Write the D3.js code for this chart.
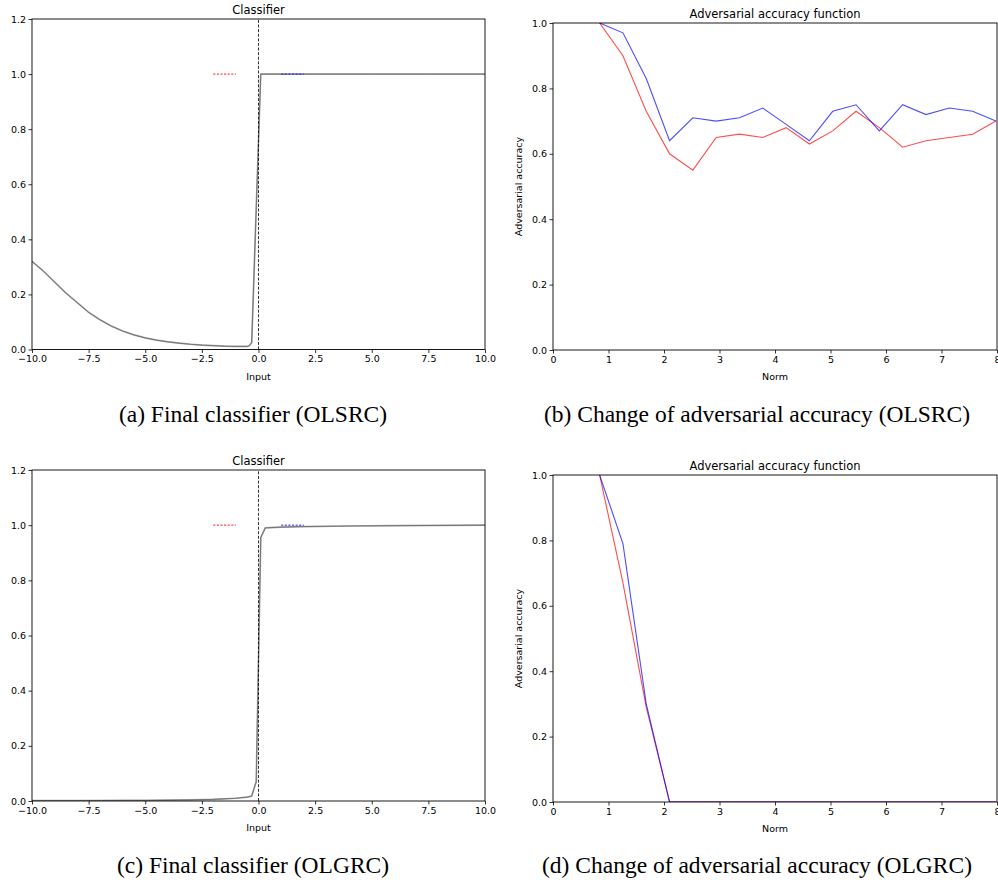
<!DOCTYPE html>
<html>
<head>
<meta charset="utf-8">
<script src="https://cdn.jsdelivr.net/npm/d3@7"></script>
<style>
  html, body { margin: 0; padding: 0; background: #fff; }
  svg { display: block; }
  .tick text { font-family: "DejaVu Sans", sans-serif; }
</style>
</head>
<body>
<svg id="chart" width="998" height="882"></svg>
<script>
// ---- Classifier output, OLSRC (input -> output) ----
const olsrcInput  = [-10, -9.5, -9, -8.5, -8, -7.5, -7, -6.5, -6, -5.5, -5, -4.5, -4, -3.5, -3, -2.5, -2, -1.5, -1, -0.5, -0.4, -0.3, 0.1, 2.5, 5, 7.5, 10];
const olsrcOutput = [0.32, 0.285, 0.245, 0.205, 0.17, 0.135, 0.108, 0.085, 0.067, 0.053, 0.042, 0.034, 0.028, 0.023, 0.019, 0.016, 0.014, 0.012, 0.011, 0.011, 0.014, 0.025, 1.0, 1.0, 1.0, 1.0, 1.0];

// ---- Classifier output, OLGRC ----
const olgrcInput  = [-10, -8, -6, -5, -4, -3, -2, -1.5, -1, -0.5, -0.3, -0.1, 0.1, 0.3, 1, 2, 4, 6, 8, 10];
const olgrcOutput = [0.001, 0.001, 0.002, 0.002, 0.003, 0.004, 0.006, 0.008, 0.01, 0.014, 0.018, 0.07, 0.955, 0.99, 0.993, 0.995, 0.997, 0.998, 0.999, 1.0];

// Training samples marked at output 1.0 (negative class red, positive class blue)
const negSampleX = [-2, -1];
const posSampleX = [1, 2];
const sampleLevel = 1.0;

// ---- Adversarial accuracy vs perturbation norm ----
const norms = [0.84, 1.26, 1.68, 2.10, 2.52, 2.94, 3.36, 3.78, 4.20, 4.62, 5.04, 5.46, 5.88, 6.30, 6.72, 7.14, 7.56, 7.98];
const olsrcAccRed  = [1.0, 0.90, 0.73, 0.60, 0.55, 0.65, 0.66, 0.65, 0.68, 0.63, 0.67, 0.73, 0.68, 0.62, 0.64, 0.65, 0.66, 0.70];
const olsrcAccBlue = [1.0, 0.97, 0.83, 0.64, 0.71, 0.70, 0.71, 0.74, 0.69, 0.64, 0.73, 0.75, 0.67, 0.75, 0.72, 0.74, 0.73, 0.70];
const olgrcAccRed  = [1.0, 0.67, 0.29, 0.0, 0, 0, 0, 0, 0, 0, 0, 0, 0, 0, 0, 0, 0, 0];
const olgrcAccBlue = [1.0, 0.79, 0.30, 0.0, 0, 0, 0, 0, 0, 0, 0, 0, 0, 0, 0, 0, 0, 0];

// Tick values
const classifierXTicks = [-10, -7.5, -5, -2.5, 0, 2.5, 5, 7.5, 10];
const classifierYTicks = [0, 0.2, 0.4, 0.6, 0.8, 1.0, 1.2];
const normTicks = [0, 1, 2, 3, 4, 5, 6, 7, 8];
const accTicks = [0, 0.2, 0.4, 0.6, 0.8, 1.0];

const captions = [
  "(a) Final classifier (OLSRC)",
  "(b) Change of adversarial accuracy (OLSRC)",
  "(c) Final classifier (OLGRC)",
  "(d) Change of adversarial accuracy (OLGRC)"
];

const svg = d3.select("#chart");
const fmtMinus = s => s.replace("-", "\u2212");

function panel(opt) {
  const g = svg.append("g");
  const x = d3.scaleLinear().domain(opt.xDomain).range([opt.left, opt.right]);
  const y = d3.scaleLinear().domain(opt.yDomain).range([opt.bottom, opt.top]);

  const clip = "clip" + opt.id;
  svg.append("clipPath").attr("id", clip).append("rect")
    .attr("x", opt.left).attr("y", opt.top)
    .attr("width", opt.right - opt.left).attr("height", opt.bottom - opt.top);

  const plot = g.append("g").attr("clip-path", `url(#${clip})`);
  opt.draw(plot, x, y);

  // frame
  g.append("rect")
    .attr("x", opt.left).attr("y", opt.top)
    .attr("width", opt.right - opt.left).attr("height", opt.bottom - opt.top)
    .attr("fill", "none").attr("stroke", "#000").attr("stroke-width", 0.9);

  const xAxis = d3.axisBottom(x).tickValues(opt.xTicks).tickSize(3.5).tickPadding(2.5)
    .tickFormat(d => fmtMinus(opt.xFmt(d)));
  const yAxis = d3.axisLeft(y).tickValues(opt.yTicks).tickSize(3.5).tickPadding(2.5)
    .tickFormat(d => fmtMinus(d3.format(".1f")(d)));

  const gx = g.append("g").attr("transform", `translate(0,${opt.bottom})`).call(xAxis);
  const gy = g.append("g").attr("transform", `translate(${opt.left},0)`).call(yAxis);
  [gx, gy].forEach(a => {
    a.select(".domain").remove();
    a.selectAll(".tick line").attr("stroke", "#000").attr("stroke-width", 0.8);
    a.selectAll(".tick text").attr("font-size", 9.5).attr("fill", "#000");
  });

  const cx = (opt.left + opt.right) / 2;
  g.append("text").attr("x", cx).attr("y", opt.top - 5)
    .attr("text-anchor", "middle").attr("font-family", "DejaVu Sans, sans-serif")
    .attr("fill", "#000").attr("font-size", 11.5).text(opt.title);

  g.append("text").attr("x", cx).attr("y", opt.bottom + 30)
    .attr("text-anchor", "middle").attr("font-family", "DejaVu Sans, sans-serif")
    .attr("fill", "#000").attr("font-size", 9.5).text(opt.xLabel);

  if (opt.yLabel) {
    const cy = (opt.top + opt.bottom) / 2;
    g.append("text").attr("transform", `translate(${opt.left - 31},${cy}) rotate(-90)`)
      .attr("text-anchor", "middle").attr("font-family", "DejaVu Sans, sans-serif")
      .attr("fill", "#000").attr("font-size", 9.5).text(opt.yLabel);
  }

  g.append("text").attr("x", opt.capX).attr("y", opt.capY)
    .attr("text-anchor", "middle").attr("font-family", "Liberation Serif, Times New Roman, serif")
    .attr("fill", "#000").attr("font-size", 23.5).text(opt.caption);
}

function classifierDraw(inputs, outputs) {
  return (plot, x, y) => {
    const pts = inputs.map((v, i) => [v, outputs[i]]);
    const line = d3.line().x(d => x(d[0])).y(d => y(d[1]));
    plot.append("path").datum(pts).attr("d", line)
      .attr("fill", "none").attr("stroke", "#a8a8a8").attr("stroke-width", 1.7);
    plot.append("path").datum(pts).attr("d", line)
      .attr("fill", "none").attr("stroke", "#505050").attr("stroke-width", 0.6);
    // decision boundary
    plot.append("line").attr("x1", x(0)).attr("x2", x(0))
      .attr("y1", y.range()[0]).attr("y2", y.range()[1])
      .attr("stroke", "#000").attr("stroke-width", 0.8).attr("stroke-dasharray", "3,1.6");
    // training samples
    plot.append("line").attr("x1", x(negSampleX[0])).attr("x2", x(negSampleX[1]))
      .attr("y1", y(sampleLevel)).attr("y2", y(sampleLevel))
      .attr("stroke", "#ff2020").attr("stroke-width", 1).attr("stroke-dasharray", "2.2,1.4");
    plot.append("line").attr("x1", x(posSampleX[0])).attr("x2", x(posSampleX[1]))
      .attr("y1", y(sampleLevel)).attr("y2", y(sampleLevel))
      .attr("stroke", "#2020ff").attr("stroke-width", 1).attr("stroke-dasharray", "2.2,1.4");
  };
}

function accuracyDraw(red, blue) {
  return (plot, x, y) => {
    const line = d3.line().x((d, i) => x(norms[i])).y(d => y(d));
    plot.append("path").datum(red).attr("d", line)
      .attr("fill", "none").attr("stroke", "#ff0000").attr("stroke-opacity", 0.7).attr("stroke-width", 1.1);
    plot.append("path").datum(blue).attr("d", line)
      .attr("fill", "none").attr("stroke", "#0000ff").attr("stroke-opacity", 0.7).attr("stroke-width", 1.1);
  };
}

const classifierCommon = {
  xDomain: [-10, 10], yDomain: [0, 1.2], left: 32, right: 485,
  xTicks: classifierXTicks, yTicks: classifierYTicks, xFmt: d3.format(".1f"),
  title: "Classifier", xLabel: "Input", capX: 253
};
const accuracyCommon = {
  xDomain: [0, 8], yDomain: [0, 1.0], left: 553, right: 997,
  xTicks: normTicks, yTicks: accTicks, xFmt: d3.format("d"),
  title: "Adversarial accuracy function", xLabel: "Norm", yLabel: "Adversarial accuracy", capX: 757
};

panel(Object.assign({}, classifierCommon, {
  id: "a", top: 19, bottom: 349.5, caption: captions[0], capY: 422,
  draw: classifierDraw(olsrcInput, olsrcOutput)
}));
panel(Object.assign({}, accuracyCommon, {
  id: "b", top: 23, bottom: 350, caption: captions[1], capY: 422,
  draw: accuracyDraw(olsrcAccRed, olsrcAccBlue)
}));
panel(Object.assign({}, classifierCommon, {
  id: "c", top: 470, bottom: 801, caption: captions[2], capY: 873,
  draw: classifierDraw(olgrcInput, olgrcOutput)
}));
panel(Object.assign({}, accuracyCommon, {
  id: "d", top: 475, bottom: 802, caption: captions[3], capY: 873,
  draw: accuracyDraw(olgrcAccRed, olgrcAccBlue)
}));
</script>
</body>
</html>
